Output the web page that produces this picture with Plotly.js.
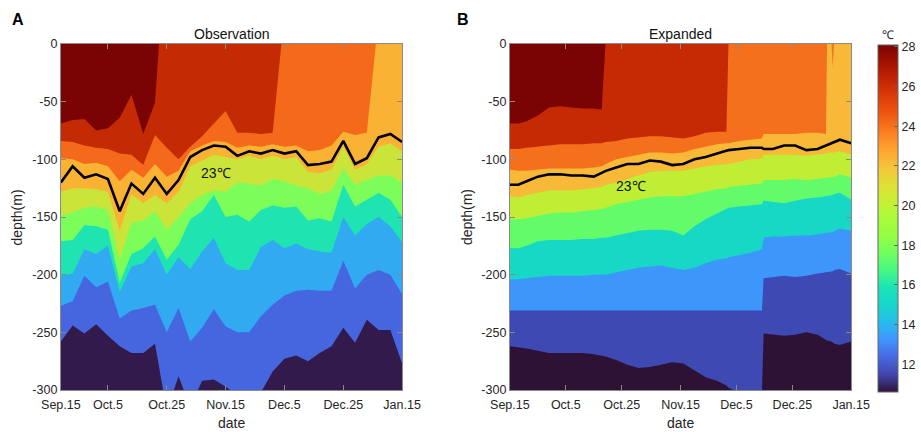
<!DOCTYPE html>
<html><head><meta charset="utf-8">
<script src="https://cdn.plot.ly/plotly-3.0.1.min.js"></script>
<style>html,body{margin:0;padding:0;background:#fff}#chart{width:921px;height:432px}</style>
</head><body><div id="chart"></div>
<script>
// ---------- Panel A: Observation (sample index 1..30), isotherm depths (m) ----------
const obsIndex = [1,2,3,4,5,6,7,8,9,10,11,12,13,14,15,16,17,18,19,20,21,22,23,24,25,26,27,28,29,30];
const obsT28 = [-69,-66,-65,-75,-73,-64,-44,-78,-51,100,100,100,100,100,100,100,100,100,100,100,100,100,100,100,100,100,100,100,100,100];
const obsT26 = [-84,-85,-88,-90,-91,-95,-96,-105,-79,-90,-100,-89,-80,-69,-58,-77,-77,-78,-77,27,30,30,30,30,30,30,30,30,30,30];
const obsT24 = [-99,-100,-104,-103,-106,-119,-109,-116,-104,-115,-110,-93,-88,-84,-85,-90,-88,-89,-87,-89,-88,-93,-92,-88,-76,-79,-77,23,30,30];
const obsT23 = [-120,-106,-116,-113,-117,-145,-121,-130,-116,-130,-118,-98,-92,-88,-89,-97,-93,-95,-92,-95,-93,-105,-104,-102,-84,-104,-99,-81,-78,-85];
const obsT22 = [-128,-125,-125,-126,-128,-162,-130,-138,-131,-138,-128,-106,-101,-96,-98,-100,-97,-100,-97,-100,-98,-111,-112,-109,-89,-109,-104,-89,-86,-93];
const obsT20 = [-149,-146,-142,-141,-144,-187,-155,-153,-145,-161,-150,-138,-131,-127,-128,-120,-121,-123,-117,-119,-123,-125,-130,-127,-108,-122,-118,-114,-114,-120];
const obsT18 = [-171,-170,-157,-158,-161,-207,-182,-177,-167,-187,-174,-152,-145,-131,-150,-148,-154,-144,-140,-142,-141,-153,-151,-154,-122,-141,-135,-129,-135,-150];
const obsT16 = [-201,-199,-178,-182,-175,-215,-193,-190,-178,-200,-185,-195,-180,-168,-190,-196,-196,-176,-170,-177,-173,-178,-180,-181,-150,-166,-156,-150,-158,-172];
const obsT14 = [-227,-223,-201,-211,-206,-238,-231,-229,-226,-250,-229,-258,-246,-230,-245,-250,-250,-236,-226,-218,-214,-213,-214,-214,-188,-212,-200,-196,-200,-217];
const obsT12 = [-258,-244,-251,-243,-253,-262,-268,-268,-260,-318,-288,-315,-292,-291,-297,-305,-310,-302,-284,-273,-270,-275,-268,-262,-246,-259,-239,-248,-248,-277];

// ---------- Panel B: Expanded (days after Sep.15), isotherm depths (m) ----------
const expDay = [0,3,6,10,14,18,22,26,30,32.8,34.3,38,42,46,50,54,58,62,66,70,74,77.4,78.2,82,86,90.1,90.7,94,98,102,106,110,113,113.4,114.9,115.4,116,118,122];
const expT28 = [-69,-69,-67,-62,-55,-54,-55,-56,-56,-57,5,5,5,5,5,5,5,5,5,5,5,5,5,5,5,5,5,5,5,5,5,5,5,5,5,5,5,5,5];
const expT26 = [-91,-91,-90,-89,-88,-87,-87,-87,-86,-86,-85,-84,-82,-81,-80,-80,-81,-82,-80,-77,-76,-76,5,5,5,5,5,5,5,5,5,5,5,5,5,5,5,5,5];
const expT24 = [-109,-110,-110,-109,-108,-108,-108,-108,-107,-106,-104,-100,-98,-96,-94,-94,-95,-94,-91,-89,-87,-86,-86,-84,-83,-82,-78,-78,-78,-78,-77,-77,-78,5,5,-20,5,5,5];
const expT23 = [-122,-122,-119,-115,-113,-113,-114,-114,-115,-112,-110,-107,-104,-104,-101,-102,-105,-104,-100,-98,-95,-93,-92,-91,-90,-90,-91,-91,-88,-88,-92,-91,-88,-88,-86,-86,-85,-83,-86];
const expT22 = [-132,-133,-131,-129,-127,-127,-127,-126,-125,-124,-122,-120,-117,-114,-111,-110,-110,-110,-108,-106,-105,-104,-104,-102,-100,-99,-96,-96,-96,-96,-97,-96,-95,-95,-94,-94,-94,-93,-96];
const expT20 = [-152,-152,-151,-149,-147,-146,-146,-145,-144,-143,-142,-139,-137,-135,-133,-132,-132,-132,-130,-128,-126,-125,-124,-123,-122,-121,-118,-118,-118,-117,-118,-117,-116,-116,-115,-115,-115,-113,-116];
const expT18 = [-177,-177,-175,-171,-170,-170,-170,-169,-169,-168,-168,-166,-164,-162,-161,-161,-162,-166,-158,-152,-147,-143,-142,-141,-140,-139,-136,-137,-138,-136,-134,-133,-132,-132,-131,-131,-130,-129,-135];
const expT16 = [-204,-204,-203,-202,-201,-201,-201,-201,-200,-200,-200,-198,-196,-194,-193,-192,-194,-196,-194,-190,-187,-186,-185,-183,-181,-178,-168,-167,-167,-166,-166,-165,-164,-164,-163,-163,-162,-160,-162];
const expT14 = [-231,-231,-231,-231,-231,-231,-231,-231,-231,-231,-231,-231,-231,-231,-231,-231,-231,-231,-231,-231,-231,-231,-231,-231,-231,-231,-203,-202,-201,-202,-201,-199,-198,-198,-197,-197,-196,-195,-199];
const expT12 = [-262,-263,-264,-266,-268,-268,-268,-268,-269,-270,-271,-274,-278,-281,-280,-278,-276,-277,-283,-289,-292,-296,-298,-303,-303,-303,-251,-252,-253,-252,-250,-252,-256,-257,-258,-259,-260,-261,-258];

// ---------- ticks / labels ----------
const dateLabels = ['Sep.15','Oct.5','Oct.25','Nov.15','Dec.5','Dec.25','Jan.15'];
const obsTickIndex = [1,5,10,15,20,25,30];
const expTickDay = [0,20,40,61,81,101,122];
const depthTicks = [0,-50,-100,-150,-200,-250,-300];
const depthTickText = ['0','-50','-100','-150','-200','-250','-300'];
const cbTicks = [12,14,16,18,20,22,24,26,28];
const cbMin = 10.6, cbMax = 28.1;

// ---------- styles ----------
const obsColors = ['#7a0403','#c42a04','#f56a1a','#f9b233','#cbe43a','#7dfd59','#1fe4b2','#31aaf2','#4566de','#331a4d'];
const expColors = ['#7a0403','#c62a04','#f5701d','#f8b838','#c0ee34','#63fb69','#17d8c4','#3d97fb','#3e49b3','#2d1236'];
const turboScale = [[0,'#30123b'],[0.05,'#4145ab'],[0.1,'#4669e0'],[0.15,'#4294ff'],[0.2,'#28bbec'],[0.25,'#18d6cb'],[0.3,'#1ae4b6'],[0.35,'#46f884'],[0.4,'#72fe5e'],[0.45,'#95fe43'],[0.5,'#a9fb3c'],[0.55,'#c8ef34'],[0.6,'#e1dd37'],[0.65,'#f6c23a'],[0.7,'#fea331'],[0.75,'#fb7e21'],[0.8,'#ef5911'],[0.85,'#dd3d08'],[0.9,'#c42503'],[0.95,'#a11201'],[1,'#7a0403']];
const FONT = 'Liberation Sans, Arial, Helvetica, sans-serif';
const TXT = '#262626';
const FLOOR = -400;

function bandTraces(xs, isos, colors, xa, ya) {
  const out = [];
  const xEnd = xs[xs.length - 1], xStart = xs[0];
  isos.forEach((iso, k) => {
    out.push({
      type: 'scatter', mode: 'lines',
      x: xs.concat([xEnd, xStart]), y: iso.concat([FLOOR, FLOOR]),
      fill: 'toself', fillcolor: colors[k + 1],
      line: {width: 0, color: colors[k + 1]},
      xaxis: xa, yaxis: ya, hoverinfo: 'skip', showlegend: false
    });
  });
  return out;
}

const traces = []
  .concat(bandTraces(obsIndex, [obsT28, obsT26, obsT24, obsT22, obsT20, obsT18, obsT16, obsT14, obsT12], obsColors, 'x', 'y'))
  .concat(bandTraces(expDay, [expT28, expT26, expT24, expT22, expT20, expT18, expT16, expT14, expT12], expColors, 'x2', 'y2'));

traces.push({type:'scatter', mode:'lines', x: obsIndex, y: obsT23, line:{color:'#000', width:2.6}, xaxis:'x', yaxis:'y', hoverinfo:'skip'});
traces.push({type:'scatter', mode:'lines', x: expDay, y: expT23, line:{color:'#000', width:2.6}, xaxis:'x2', yaxis:'y2', hoverinfo:'skip'});

// colour bar carrier
traces.push({
  type:'scatter', mode:'markers', x:[-50,-50], y:[-900,-900], xaxis:'x', yaxis:'y', hoverinfo:'skip',
  marker:{size:1, opacity:0, color:[cbMin, cbMax], cmin:cbMin, cmax:cbMax, colorscale:turboScale, showscale:true,
    colorbar:{x:880/921, xanchor:'left', xref:'paper', y:(432-45)/432, yanchor:'top', yref:'paper',
      len:347/432, lenmode:'fraction', thickness:20, thicknessmode:'pixels', xpad:0, ypad:0,
      outlinewidth:1, outlinecolor:'#666', tickvals:cbTicks, ticks:'inside', ticklen:4, tickcolor:'#666',
      tickfont:{family:FONT, size:12.5, color:TXT}}}
});

const axisBase = {showline:true, linecolor:'#8a8a8a', linewidth:1, mirror:'ticks', ticks:'inside', ticklen:5,
  tickcolor:'#8a8a8a', tickfont:{family:FONT, size:12.5, color:TXT}, showgrid:false, zeroline:false, fixedrange:true};
const yDom = [42/432, 388/432];

const layout = {
  width:921, height:432, margin:{l:0, r:0, t:0, b:0}, paper_bgcolor:'#ffffff', plot_bgcolor:'#7a0403',
  showlegend:false, hovermode:false, font:{family:FONT, color:TXT},
  xaxis: Object.assign({}, axisBase, {domain:[61/921, 403/921], range:[1,30], tickmode:'array', tickvals:obsTickIndex, ticktext:dateLabels, anchor:'y', ticklabelstandoff:3}),
  yaxis: Object.assign({}, axisBase, {domain:yDom, range:[-300,0], tickmode:'array', tickvals:depthTicks, ticktext:depthTickText, anchor:'x'}),
  xaxis2: Object.assign({}, axisBase, {domain:[511/921, 853/921], range:[0,122], tickmode:'array', tickvals:expTickDay, ticktext:dateLabels, anchor:'y2', ticklabelstandoff:3}),
  yaxis2: Object.assign({}, axisBase, {domain:yDom, range:[-300,0], tickmode:'array', tickvals:depthTicks, ticktext:depthTickText, anchor:'x2'}),
  annotations: [
    {text:'Observation', xref:'paper', yref:'paper', x:232/921, y:(432-34)/432, xanchor:'center', yanchor:'middle', showarrow:false, font:{family:FONT, size:14, color:'#111'}},
    {text:'Expanded', xref:'paper', yref:'paper', x:682/921, y:(432-34)/432, xanchor:'center', yanchor:'middle', showarrow:false, font:{family:FONT, size:14, color:'#111'}},
    {text:'<b>A</b>', xref:'paper', yref:'paper', x:18/921, y:(432-20)/432, xanchor:'center', yanchor:'middle', showarrow:false, font:{family:FONT, size:16, color:'#000'}},
    {text:'<b>B</b>', xref:'paper', yref:'paper', x:464/921, y:(432-20)/432, xanchor:'center', yanchor:'middle', showarrow:false, font:{family:FONT, size:16, color:'#000'}},
    {text:'depth(m)', xref:'paper', yref:'paper', x:17.5/921, y:(432-217)/432, textangle:-90, xanchor:'center', yanchor:'middle', showarrow:false, font:{family:FONT, size:14, color:TXT}},
    {text:'depth(m)', xref:'paper', yref:'paper', x:468/921, y:(432-217)/432, textangle:-90, xanchor:'center', yanchor:'middle', showarrow:false, font:{family:FONT, size:14, color:TXT}},
    {text:'date', xref:'paper', yref:'paper', x:232/921, y:(432-423)/432, xanchor:'center', yanchor:'middle', showarrow:false, font:{family:FONT, size:14, color:TXT}},
    {text:'date', xref:'paper', yref:'paper', x:682/921, y:(432-423)/432, xanchor:'center', yanchor:'middle', showarrow:false, font:{family:FONT, size:14, color:TXT}},
    {text:'℃', xref:'paper', yref:'paper', x:890/921, y:(432-35)/432, xanchor:'center', yanchor:'middle', showarrow:false, font:{family:FONT, size:12, color:TXT}},
    {text:'23℃', xref:'x', yref:'y', x:14.2, y:-111.5, xanchor:'center', yanchor:'middle', showarrow:false, font:{family:FONT, size:14, color:'#111'}},
    {text:'23℃', xref:'x2', yref:'y2', x:43.3, y:-123.5, xanchor:'center', yanchor:'middle', showarrow:false, font:{family:FONT, size:14, color:'#111'}}
  ]
};

Plotly.newPlot('chart', traces, layout, {staticPlot:true, displayModeBar:false});
</script>
</body></html>
